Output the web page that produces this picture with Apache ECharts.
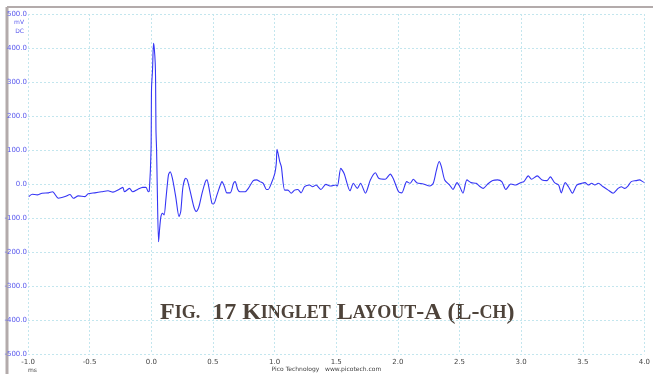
<!DOCTYPE html>
<html>
<head>
<meta charset="utf-8">
<script src="https://cdn.jsdelivr.net/npm/echarts@6/dist/echarts.min.js"></script>
<style>
  html, body { margin: 0; padding: 0; background: #fff; }
  #chart { width: 653px; height: 374px; }
</style>
</head>
<body>
<div id="chart"></div>
<script>
const timeMs = [
  -0.994, -0.966, -0.926, -0.886, -0.833, -0.801, -0.753, -0.699, -0.659, -0.632,
  -0.592, -0.538, -0.512, -0.458, -0.404, -0.351, -0.311, -0.271, -0.231, -0.217,
  -0.177, -0.150, -0.110, -0.070, -0.043, -0.024, -0.016, -0.002, 0.002, 0.010,
  0.018, 0.024, 0.032, 0.035, 0.038, 0.043, 0.048, 0.059, 0.068, 0.078,
  0.091, 0.104, 0.118, 0.139, 0.153, 0.171, 0.198, 0.225, 0.239, 0.257,
  0.279, 0.292, 0.319, 0.345, 0.364, 0.386, 0.412, 0.439, 0.452, 0.466,
  0.492, 0.506, 0.533, 0.560, 0.573, 0.594, 0.613, 0.640, 0.667, 0.680,
  0.701, 0.720, 0.761, 0.787, 0.827, 0.854, 0.881, 0.908, 0.934, 0.948,
  0.974, 1.002, 1.014, 1.020, 1.042, 1.055, 1.082, 1.108, 1.135, 1.162,
  1.189, 1.215, 1.243, 1.283, 1.309, 1.336, 1.376, 1.416, 1.456, 1.496,
  1.510, 1.537, 1.564, 1.612, 1.639, 1.671, 1.697, 1.737, 1.777, 1.818,
  1.845, 1.898, 1.938, 1.965, 2.006, 2.032, 2.072, 2.099, 2.126, 2.153,
  2.206, 2.259, 2.287, 2.313, 2.335, 2.353, 2.380, 2.420, 2.447, 2.480,
  2.500, 2.528, 2.560, 2.594, 2.635, 2.661, 2.693, 2.729, 2.769, 2.809,
  2.843, 2.876, 2.916, 2.956, 2.996, 3.022, 3.058, 3.084, 3.130, 3.170,
  3.210, 3.237, 3.271, 3.304, 3.325, 3.357, 3.384, 3.416, 3.451, 3.492,
  3.518, 3.545, 3.572, 3.598, 3.625, 3.665, 3.706, 3.746, 3.786, 3.813,
  3.839, 3.866, 3.893, 3.933, 3.960, 3.986, 4.000
];
const voltMv = [
  -37, -30, -32, -27, -26, -23, -42, -37, -31, -42,
  -35, -37, -29, -26, -23, -20, -24, -18, -10, -23,
  -13, -23, -16, -10, -10, -23, -20, 100, 282, 335,
  414, 400, 355, 300, 159, 100, 0, -170, -130, -96,
  -86, -91, -47, 26, 36, 17, -37, -96, -81, -8,
  17, 12, -27, -67, -81, -67, -27, 7, 12, -8,
  -57, -59, -32, -3, 7, -8, -26, -26, 2, 7,
  -16, -23, -23, -13, 10, 12, 7, 2, -16, -16,
  2, 31, 61, 102, 66, 51, -18, -18, -27, -18,
  -16, -26, -8, -3, -8, -3, -16, -1, -6, -3,
  -6, 46, 31, -20, 2, -13, 2, -27, 12, 33,
  17, 14, 29, 14, -23, -26, 7, 2, 14, 4,
  0, -6, 2, 41, 66, 51, 12, -3, -16, 4,
  -6, -27, 12, 4, 2, -6, -13, 0, 10, 12,
  7, -16, 0, -3, 4, 7, 24, 14, 24, 12,
  10, 21, 4, -3, -26, 4, -8, -27, -3, 2,
  4, -3, 2, -3, 2, -8, -18, -27, -13, -8,
  -13, -6, 7, 10, 12, 7, 4
];
const xTicks = { min: -1, max: 4, step: 0.5 };
const yTicks = { min: -500, max: 500, step: 100 };

const chart = echarts.init(document.getElementById('chart'));
const gridColor = '#c3e6ee';

chart.setOption({
  animation: false,
  grid: { left: 28, right: 3, top: 14, bottom: 20 },
  xAxis: {
    type: 'value',
    min: xTicks.min, max: xTicks.max, interval: xTicks.step,
    axisLine: { show: false },
    axisTick: { show: false },
    axisLabel: {
      color: '#444', fontSize: 7, fontFamily: 'DejaVu Sans', margin: 5,
      formatter: v => v.toFixed(1)
    },
    splitLine: { show: true, lineStyle: { color: gridColor, type: [2, 2], width: 1 } }
  },
  yAxis: {
    type: 'value',
    min: yTicks.min, max: yTicks.max, interval: yTicks.step,
    axisLine: { show: false },
    axisTick: { show: false },
    axisLabel: {
      color: '#5a5aee', fontSize: 7, fontFamily: 'DejaVu Sans', margin: 1,
      formatter: v => v.toFixed(1)
    },
    splitLine: { show: true, lineStyle: { color: gridColor, type: [2, 2], width: 1 } }
  },
  graphic: [
    { type: 'line', shape: { x1: 7, y1: 7, x2: 7, y2: 374 }, style: { stroke: '#b3abab', lineWidth: 3 } },
    { type: 'line', shape: { x1: 7, y1: 7, x2: 653, y2: 7 }, style: { stroke: '#b3abab', lineWidth: 2 } },
    { type: 'text', right: 629, top: 19, style: { text: 'mV', fill: '#5a5aee', font: '6px DejaVu Sans' } },
    { type: 'text', right: 629, top: 28, style: { text: 'DC', fill: '#5a5aee', font: '6px DejaVu Sans' } },
    { type: 'text', left: 28, top: 367, style: { text: 'ms', fill: '#444', font: '6px DejaVu Sans' } },
    { type: 'text', left: 'center', top: 366, style: { text: 'Pico Technology   www.picotech.com', fill: '#444', font: '6px DejaVu Sans' } },
    {
      type: 'text', left: 160, top: 301,
      style: {
        text: '{b|F}{s|IG.}{b|  17 K}{s|INGLET}{b| L}{s|AYOUT}{b|-A (L-}{s|CH}{b|)}',
        rich: {
          b: { fontSize: 24, fontWeight: 'bold', fontFamily: 'Liberation Serif', fill: '#4e433a' },
          s: { fontSize: 18, fontWeight: 'bold', fontFamily: 'Liberation Serif', fill: '#4e433a' }
        }
      }
    }
  ],
  series: [{
    type: 'line',
    data: timeMs.map((t, i) => [t, voltMv[i]]),
    showSymbol: false,
    smooth: 0.25,
    lineStyle: { color: '#3535f5', width: 1.1 }
  }]
});
</script>
</body>
</html>
